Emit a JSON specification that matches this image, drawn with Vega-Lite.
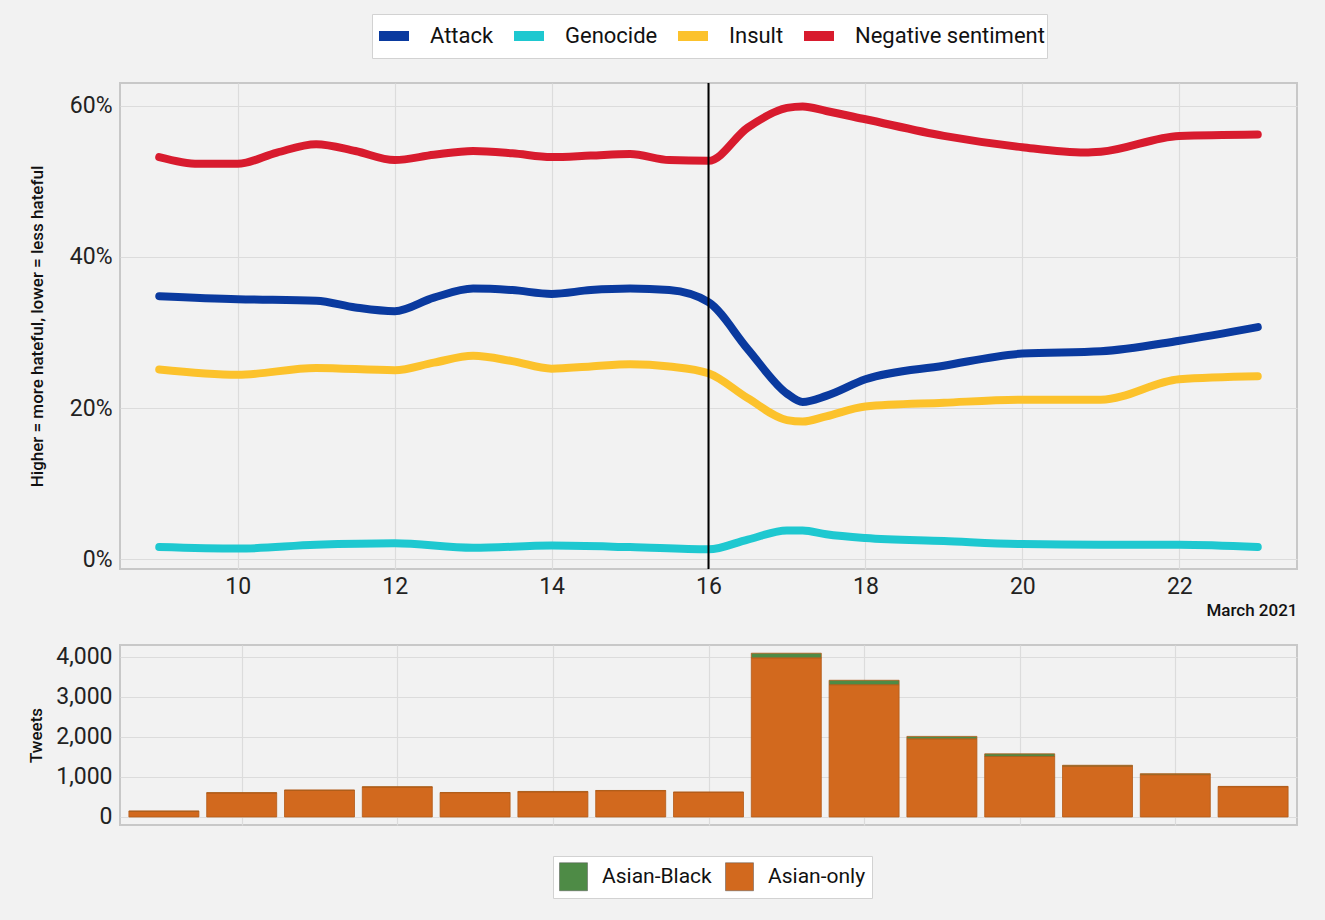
{
  "$schema": "https://vega.github.io/schema/vega-lite/v6.json",
  "background": "#f2f2f2",
  "padding": {"left": 26, "top": 12, "right": 28, "bottom": 20},
  "bounds": "flush",
  "spacing": 76,
  "config": {
    "font": "Roboto",
    "view": {"stroke": "#c8c8c8", "strokeWidth": 2},
    "axis": {
      "gridColor": "#dcdcdc",
      "gridWidth": 1.2,
      "domain": false,
      "ticks": false,
      "labelFont": "Roboto",
      "labelFontSize": 23,
      "labelColor": "#222",
      "titleFont": "Roboto",
      "titleFontWeight": 500,
      "titleColor": "#111"
    },
    "legend": {
      "labelFont": "Roboto",
      "labelFontSize": 21,
      "labelColor": "#111",
      "labelLimit": 400,
      "fillColor": "#ffffff",
      "strokeColor": "#d2d2d2",
      "padding": 6
    }
  },
  "resolve": {"scale": {"color": "independent"}},
  "vconcat": [
    {
      "width": 1177,
      "height": 486,
      "layer": [
        {
          "data": {
            "values": [
              {"day": 9, "series": "Negative sentiment", "value": 53.2},
              {"day": 9.5, "series": "Negative sentiment", "value": 52.3},
              {"day": 10, "series": "Negative sentiment", "value": 52.3},
              {"day": 10.5, "series": "Negative sentiment", "value": 53.8},
              {"day": 11, "series": "Negative sentiment", "value": 54.9},
              {"day": 11.5, "series": "Negative sentiment", "value": 54.0},
              {"day": 12, "series": "Negative sentiment", "value": 52.8},
              {"day": 12.5, "series": "Negative sentiment", "value": 53.5},
              {"day": 13, "series": "Negative sentiment", "value": 54.0},
              {"day": 13.5, "series": "Negative sentiment", "value": 53.7},
              {"day": 14, "series": "Negative sentiment", "value": 53.2},
              {"day": 14.5, "series": "Negative sentiment", "value": 53.4},
              {"day": 15, "series": "Negative sentiment", "value": 53.6},
              {"day": 15.5, "series": "Negative sentiment", "value": 52.8},
              {"day": 16, "series": "Negative sentiment", "value": 52.7},
              {"day": 16.5, "series": "Negative sentiment", "value": 57.1},
              {"day": 17, "series": "Negative sentiment", "value": 59.7},
              {"day": 17.2, "series": "Negative sentiment", "value": 59.9},
              {"day": 17.5, "series": "Negative sentiment", "value": 59.3},
              {"day": 18, "series": "Negative sentiment", "value": 58.2},
              {"day": 19, "series": "Negative sentiment", "value": 56.0},
              {"day": 20, "series": "Negative sentiment", "value": 54.5},
              {"day": 20.8, "series": "Negative sentiment", "value": 53.8},
              {"day": 21, "series": "Negative sentiment", "value": 53.9},
              {"day": 22, "series": "Negative sentiment", "value": 56.0},
              {"day": 23, "series": "Negative sentiment", "value": 56.2},
              {"day": 9, "series": "Attack", "value": 34.8},
              {"day": 10, "series": "Attack", "value": 34.4},
              {"day": 11, "series": "Attack", "value": 34.2},
              {"day": 11.5, "series": "Attack", "value": 33.3},
              {"day": 12, "series": "Attack", "value": 32.8},
              {"day": 12.5, "series": "Attack", "value": 34.6},
              {"day": 13, "series": "Attack", "value": 35.8},
              {"day": 13.5, "series": "Attack", "value": 35.6},
              {"day": 14, "series": "Attack", "value": 35.1},
              {"day": 14.5, "series": "Attack", "value": 35.6},
              {"day": 15, "series": "Attack", "value": 35.8},
              {"day": 15.5, "series": "Attack", "value": 35.6},
              {"day": 16, "series": "Attack", "value": 34.0},
              {"day": 16.5, "series": "Attack", "value": 27.8},
              {"day": 17, "series": "Attack", "value": 21.9},
              {"day": 17.2, "series": "Attack", "value": 20.8},
              {"day": 17.5, "series": "Attack", "value": 21.6},
              {"day": 18, "series": "Attack", "value": 23.8},
              {"day": 19, "series": "Attack", "value": 25.6},
              {"day": 20, "series": "Attack", "value": 27.2},
              {"day": 21, "series": "Attack", "value": 27.5},
              {"day": 22, "series": "Attack", "value": 28.9},
              {"day": 23, "series": "Attack", "value": 30.7},
              {"day": 9, "series": "Insult", "value": 25.1},
              {"day": 10, "series": "Insult", "value": 24.4},
              {"day": 11, "series": "Insult", "value": 25.3},
              {"day": 12, "series": "Insult", "value": 25.0},
              {"day": 12.5, "series": "Insult", "value": 26.0},
              {"day": 13, "series": "Insult", "value": 26.9},
              {"day": 13.5, "series": "Insult", "value": 26.2},
              {"day": 14, "series": "Insult", "value": 25.2},
              {"day": 14.5, "series": "Insult", "value": 25.5},
              {"day": 15, "series": "Insult", "value": 25.8},
              {"day": 15.5, "series": "Insult", "value": 25.5},
              {"day": 16, "series": "Insult", "value": 24.6},
              {"day": 16.5, "series": "Insult", "value": 21.3},
              {"day": 17, "series": "Insult", "value": 18.4},
              {"day": 17.2, "series": "Insult", "value": 18.2},
              {"day": 17.5, "series": "Insult", "value": 18.9},
              {"day": 18, "series": "Insult", "value": 20.2},
              {"day": 19, "series": "Insult", "value": 20.7},
              {"day": 20, "series": "Insult", "value": 21.1},
              {"day": 21, "series": "Insult", "value": 21.1},
              {"day": 22, "series": "Insult", "value": 23.8},
              {"day": 23, "series": "Insult", "value": 24.2},
              {"day": 9, "series": "Genocide", "value": 1.6},
              {"day": 10, "series": "Genocide", "value": 1.4},
              {"day": 11, "series": "Genocide", "value": 1.9},
              {"day": 12, "series": "Genocide", "value": 2.1},
              {"day": 13, "series": "Genocide", "value": 1.5},
              {"day": 14, "series": "Genocide", "value": 1.8},
              {"day": 15, "series": "Genocide", "value": 1.6},
              {"day": 16, "series": "Genocide", "value": 1.3},
              {"day": 16.5, "series": "Genocide", "value": 2.6},
              {"day": 17, "series": "Genocide", "value": 3.8},
              {"day": 17.2, "series": "Genocide", "value": 3.8},
              {"day": 17.5, "series": "Genocide", "value": 3.3},
              {"day": 18, "series": "Genocide", "value": 2.8},
              {"day": 19, "series": "Genocide", "value": 2.4},
              {"day": 20, "series": "Genocide", "value": 2.0},
              {"day": 21, "series": "Genocide", "value": 1.9},
              {"day": 22, "series": "Genocide", "value": 1.9},
              {"day": 23, "series": "Genocide", "value": 1.6}
            ]
          },
          "mark": {"type": "line", "interpolate": "monotone", "strokeWidth": 8, "strokeCap": "round"},
          "encoding": {
            "x": {
              "field": "day",
              "type": "quantitative",
              "scale": {"domain": [8.5, 23.5], "nice": false, "zero": false},
              "axis": {
                "values": [10, 12, 14, 16, 18, 20, 22],
                "format": "d",
                "labelPadding": 6,
                "title": "March 2021",
                "titleAnchor": "end",
                "titleAlign": "right",
                "titleFontSize": 17,
                "titlePadding": 4
              }
            },
            "y": {
              "field": "value",
              "type": "quantitative",
              "scale": {"domain": [-1.3, 63], "nice": false, "zero": false},
              "axis": {
                "values": [0, 20, 40, 60],
                "labelExpr": "datum.value + '%'",
                "labelPadding": 8,
                "title": "Higher = more hateful, lower = less hateful",
                "titleFontSize": 17,
                "titlePadding": 23
              }
            },
            "color": {
              "field": "series",
              "type": "nominal",
              "scale": {
                "domain": ["Attack", "Genocide", "Insult", "Negative sentiment"],
                "range": ["#0a3a9f", "#1ec8d0", "#fcc22c", "#d81b2e"]
              },
              "legend": {
                "title": null,
                "orient": "none",
                "direction": "horizontal",
                "legendX": 252,
                "legendY": -69,
                "padding": 2,
                "symbolType": "stroke",
                "symbolStrokeWidth": 10,
                "symbolSize": 900,
                "labelFontSize": 22,
                "labelOffset": 16,
                "columnPadding": 0
              }
            }
          }
        },
        {
          "data": {"values": [{"day": 16}]},
          "mark": {"type": "rule", "color": "#000000", "strokeWidth": 2},
          "encoding": {"x": {"field": "day", "type": "quantitative"}}
        }
      ]
    },
    {
      "width": 1177,
      "height": 180,
      "data": {
        "values": [
          {"day": 9, "group": "Asian-only", "tweets": 140},
          {"day": 10, "group": "Asian-only", "tweets": 600},
          {"day": 11, "group": "Asian-only", "tweets": 665},
          {"day": 12, "group": "Asian-only", "tweets": 745},
          {"day": 13, "group": "Asian-only", "tweets": 605},
          {"day": 14, "group": "Asian-only", "tweets": 625},
          {"day": 15, "group": "Asian-only", "tweets": 655},
          {"day": 16, "group": "Asian-only", "tweets": 615},
          {"day": 17, "group": "Asian-only", "tweets": 3970},
          {"day": 18, "group": "Asian-only", "tweets": 3300},
          {"day": 19, "group": "Asian-only", "tweets": 1950},
          {"day": 20, "group": "Asian-only", "tweets": 1510},
          {"day": 21, "group": "Asian-only", "tweets": 1265},
          {"day": 22, "group": "Asian-only", "tweets": 1055},
          {"day": 23, "group": "Asian-only", "tweets": 755},
          {"day": 9, "group": "Asian-Black", "tweets": 10},
          {"day": 10, "group": "Asian-Black", "tweets": 5},
          {"day": 11, "group": "Asian-Black", "tweets": 5},
          {"day": 12, "group": "Asian-Black", "tweets": 8},
          {"day": 13, "group": "Asian-Black", "tweets": 6},
          {"day": 14, "group": "Asian-Black", "tweets": 12},
          {"day": 15, "group": "Asian-Black", "tweets": 6},
          {"day": 16, "group": "Asian-Black", "tweets": 5},
          {"day": 17, "group": "Asian-Black", "tweets": 115},
          {"day": 18, "group": "Asian-Black", "tweets": 110},
          {"day": 19, "group": "Asian-Black", "tweets": 60},
          {"day": 20, "group": "Asian-Black", "tweets": 65},
          {"day": 21, "group": "Asian-Black", "tweets": 25},
          {"day": 22, "group": "Asian-Black", "tweets": 25},
          {"day": 23, "group": "Asian-Black", "tweets": 8}
        ]
      },
      "mark": {"type": "bar", "width": 70, "stroke": "#b35a18", "strokeWidth": 0.8},
      "encoding": {
        "x": {
          "field": "day",
          "type": "quantitative",
          "scale": {"domain": [8.5, 23.5], "nice": false, "zero": false},
          "axis": {"values": [10, 12, 14, 16, 18, 20, 22], "labels": false, "title": null}
        },
        "y": {
          "field": "tweets",
          "type": "quantitative",
          "stack": "zero",
          "scale": {"domain": [-200, 4290], "nice": false, "zero": false},
          "axis": {
            "values": [0, 1000, 2000, 3000, 4000],
            "labelExpr": "format(datum.value, ',')",
            "labelPadding": 8,
            "title": "Tweets",
            "titleFontSize": 17,
            "titlePadding": 10
          }
        },
        "order": {"field": "group", "sort": "descending"},
        "color": {
          "field": "group",
          "type": "nominal",
          "scale": {"domain": ["Asian-Black", "Asian-only"], "range": ["#4e8b46", "#d2691e"]},
          "legend": {
            "title": null,
            "orient": "none",
            "direction": "horizontal",
            "legendX": 433,
            "legendY": 211,
            "symbolType": "square",
            "symbolSize": 784,
            "symbolStrokeColor": "#555",
            "symbolStrokeWidth": 0.5,
            "labelOffset": 14,
            "columnPadding": 12
          }
        }
      }
    }
  ]
}
